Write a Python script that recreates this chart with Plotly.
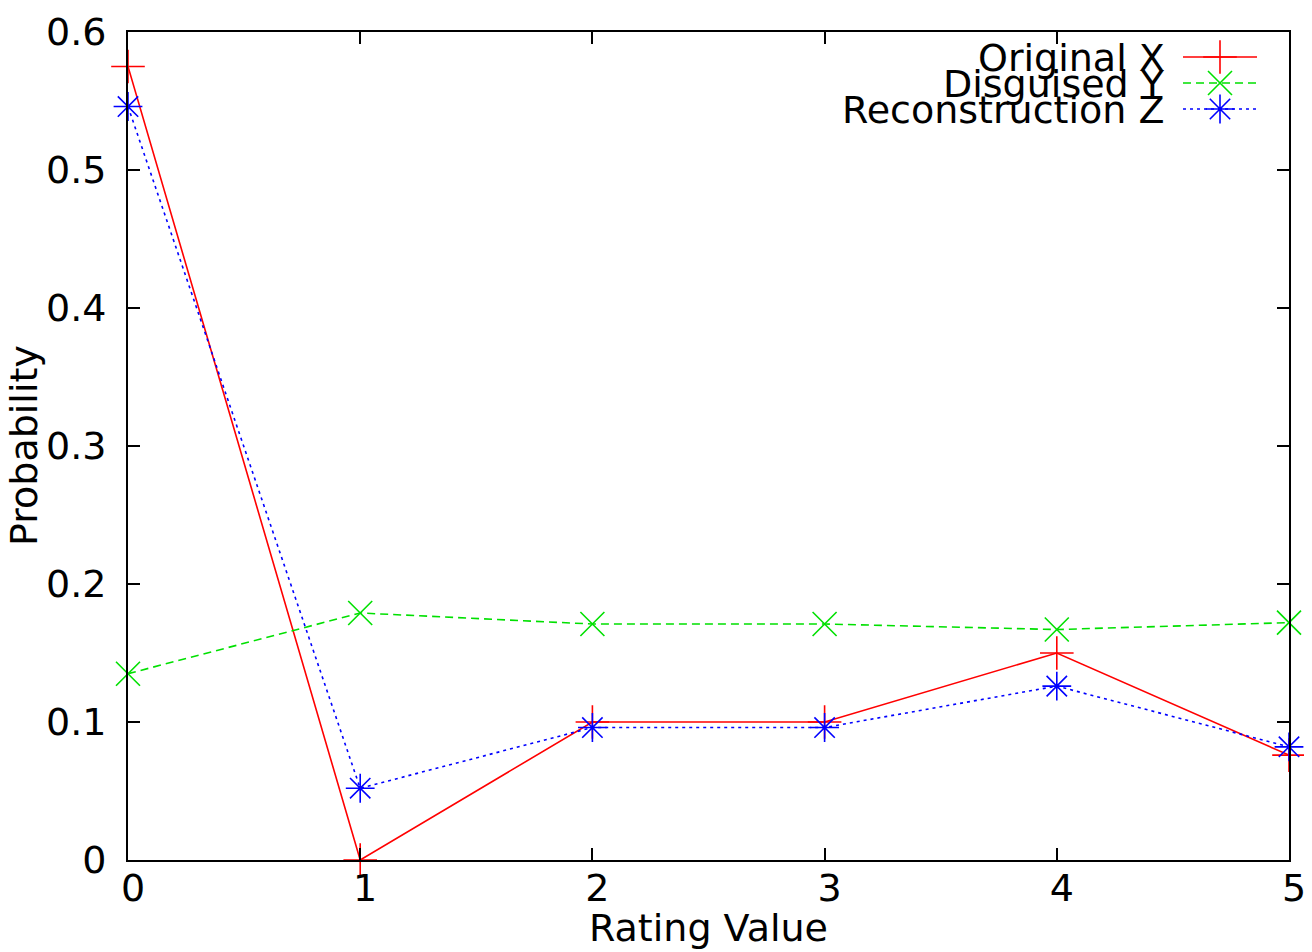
import plotly.graph_objects as go

ratings = [0, 1, 2, 3, 4, 5]
original_x = [0.575, 0.0, 0.100, 0.100, 0.150, 0.076]
disguised_y = [0.135, 0.179, 0.171, 0.171, 0.167, 0.172]
reconstruction_z = [0.546, 0.052, 0.096, 0.096, 0.126, 0.082]
series_names = ["Original X", "Disguised Y", "Reconstruction Z"]
y_ticks = [0, 0.1, 0.2, 0.3, 0.4, 0.5, 0.6]
y_tick_labels = ["0", "0.1", "0.2", "0.3", "0.4", "0.5", "0.6"]

# page offset (body margin) is 8px; figure placed at (8, 8)
OFF = 8
W, H = 1312 - OFF, 952 - OFF
L, R, T = 128 - OFF, 23, 32 - OFF
PW, PH = 1161, 828
B = H - T - PH

FONT = "DejaVu Sans"
FS = 38

def px_x(p):
    # p in page pixels
    return (p - 128) / PW

def px_y(p):
    return (860 - p) / PH

styles = [
    dict(color="#ff0000", dash="solid", symbol="cross-thin-open"),
    dict(color="#00e000", dash="8px,5px", symbol="x-thin-open"),
    dict(color="#0000ff", dash="3px,4px", symbol="asterisk-open"),
]
data = [original_x, disguised_y, reconstruction_z]

fig = go.Figure()
for vals, st, name in zip(data, styles, series_names):
    fig.add_trace(go.Scatter(
        x=ratings, y=vals, mode="lines+markers", name=name,
        line=dict(color=st["color"], width=1.6, dash=st["dash"]),
        marker=dict(symbol=st["symbol"], size=24, color=st["color"],
                    line=dict(color=st["color"], width=1.6)),
        cliponaxis=False, showlegend=False,
    ))

# manual legend (gnuplot-style, tightly spaced)
leg_rows = [57, 83, 109]
for (name, st, yp) in zip(series_names, styles, leg_rows):
    fig.add_trace(go.Scatter(
        x=[px_x(1183), px_x(1257)], y=[px_y(yp), px_y(yp)],
        xaxis="x2", yaxis="y2", mode="lines",
        line=dict(color=st["color"], width=1.6, dash=st["dash"]),
        showlegend=False, hoverinfo="skip", cliponaxis=False,
    ))
    fig.add_trace(go.Scatter(
        x=[px_x(1220)], y=[px_y(yp)], xaxis="x2", yaxis="y2", mode="markers",
        marker=dict(symbol=st["symbol"], size=24, color=st["color"],
                    line=dict(color=st["color"], width=1.6)),
        showlegend=False, hoverinfo="skip", cliponaxis=False,
    ))
    fig.add_annotation(
        x=px_x(1167), y=px_y(yp + 1), xref="paper", yref="paper",
        xanchor="right", yanchor="middle", text=name, showarrow=False,
        font=dict(family=FONT, size=FS, color="black"),
    )

axis_common = dict(
    showgrid=False, zeroline=False, showline=True, linecolor="black", linewidth=2,
    mirror="allticks", ticks="inside", ticklen=12, tickwidth=1.5, tickcolor="black",
    tickfont=dict(family=FONT, size=FS, color="black"), automargin=False,
)
fig.update_layout(
    width=W, height=H,
    margin=dict(l=L, r=R, t=T, b=B, pad=0, autoexpand=False),
    paper_bgcolor="white", plot_bgcolor="white",
    xaxis=dict(range=[0, 5], tickvals=ratings, ticktext=[str(r) for r in ratings],
               ticklabelstandoff=-7, ticklabelshift=5, **axis_common),
    yaxis=dict(range=[0, 0.6], tickvals=y_ticks, ticktext=y_tick_labels,
               ticklabelstandoff=12, **axis_common),
    xaxis2=dict(range=[0, 1], overlaying="x", visible=False, fixedrange=True),
    yaxis2=dict(range=[0, 1], overlaying="y", visible=False, fixedrange=True),
)
fig.add_annotation(
    x=0.5, y=px_y(928), xref="paper", yref="paper", xanchor="center", yanchor="middle",
    text="Rating Value", showarrow=False, font=dict(family=FONT, size=FS, color="black"),
)
fig.add_annotation(
    x=px_x(24), y=px_y(446), xref="paper", yref="paper", xanchor="center", yanchor="middle",
    text="Probability", textangle=-90, showarrow=False,
    font=dict(family=FONT, size=FS, color="black"),
)

fig.write_html("out.html")
